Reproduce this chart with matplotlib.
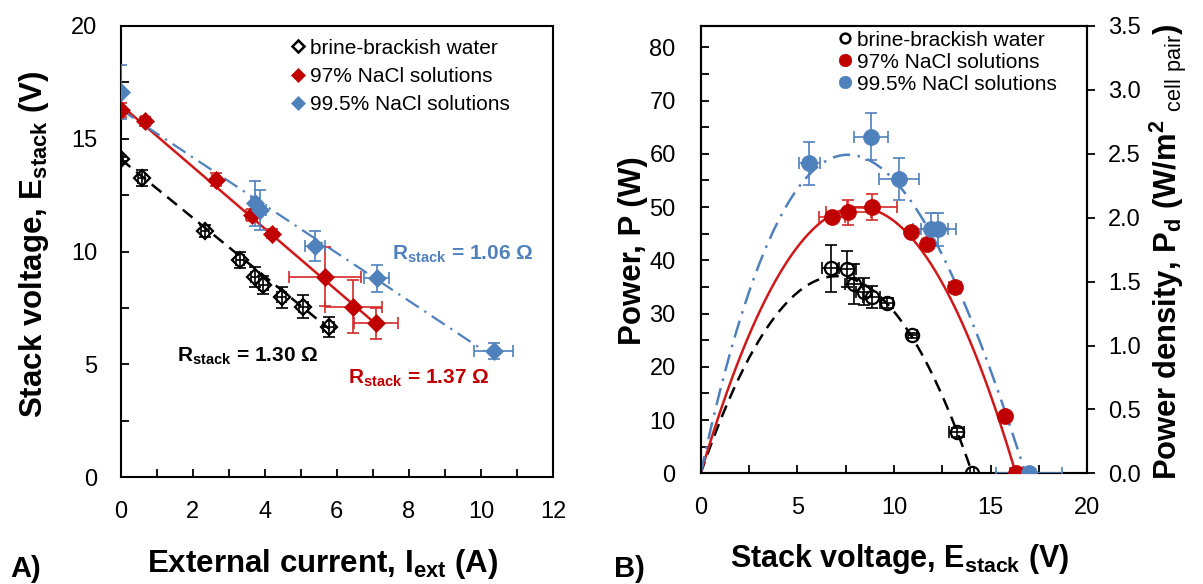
import numpy as np
import matplotlib
matplotlib.use("Agg")
import matplotlib.pyplot as plt
from matplotlib.ticker import MultipleLocator, FormatStrFormatter

plt.rcParams['font.family'] = ['Liberation Sans', 'DejaVu Sans']
plt.rcParams['mathtext.fontset'] = 'custom'
plt.rcParams['mathtext.rm'] = 'Liberation Sans:bold'
plt.rcParams['mathtext.sf'] = 'Liberation Sans'

# ---------------- data: panel A (E_stack vs I_ext) ----------------
series_labels = ["brine-brackish water", "97% NaCl solutions", "99.5% NaCl solutions"]

I_brine = [0.0, 0.58, 2.34, 3.31, 3.73, 3.96, 4.47, 5.07, 5.77]
E_brine = [14.10, 13.26, 10.92, 9.63, 8.89, 8.52, 7.97, 7.56, 6.67]
Ierr_brine = [0.05, 0.10, 0.10, 0.10, 0.12, 0.12, 0.12, 0.12, 0.15]
Eerr_brine = [0.10, 0.37, 0.25, 0.35, 0.45, 0.40, 0.48, 0.50, 0.44]

I_97 = [0.0, 0.67, 2.64, 3.64, 4.21, 5.66, 6.46, 7.09]
E_97 = [16.27, 15.78, 13.19, 11.63, 10.79, 8.89, 7.56, 6.82]
Ierr_97 = [0.05, 0.10, 0.10, 0.15, 0.10, 1.00, 0.80, 0.61]
Eerr_97 = [0.30, 0.20, 0.30, 0.25, 0.20, 1.30, 1.18, 0.67]

I_995 = [0.0, 3.73, 3.87, 5.40, 7.11, 10.35]
E_995 = [17.08, 12.15, 11.85, 10.25, 8.82, 5.60]
Ierr_995 = [0.05, 0.10, 0.15, 0.28, 0.35, 0.53]
Eerr_995 = [1.20, 1.00, 0.90, 0.68, 0.61, 0.35]

# linear fits (OCV intercept, stack resistance)
ocv_fit = [14.1, 16.5, 16.3]
R_stack = [1.30, 1.37, 1.06]
I_fit_end = [5.8, 7.1, 10.1]

# ---------------- data: panel B (P vs E_stack) ----------------
Eb_brine = [6.73, 7.55, 7.93, 8.46, 8.84, 9.62, 10.95, 13.24, 14.05]
P_brine = [38.5, 38.3, 35.5, 34.1, 33.1, 32.0, 25.9, 7.7, 0.0]
Eberr_brine = [0.44, 0.50, 0.48, 0.40, 0.45, 0.35, 0.25, 0.37, 0.10]
Perr_brine = [4.4, 3.4, 3.8, 2.5, 2.0, 1.0, 0.5, 0.8, 0.0]

Eb_97 = [6.78, 7.64, 8.88, 10.88, 11.72, 13.17, 15.74, 16.30]
P_97 = [48.2, 49.0, 50.0, 45.4, 43.1, 34.9, 10.8, 0.0]
Eberr_97 = [0.67, 1.18, 1.30, 0.20, 0.25, 0.30, 0.20, 0.30]
Perr_97 = [0.5, 2.4, 2.4, 0.5, 0.5, 0.5, 0.5, 0.0]

Eb_995 = [5.62, 8.81, 10.26, 11.90, 12.29, 17.00]
P_995 = [58.2, 63.2, 55.3, 45.8, 45.8, 0.0]
Eberr_995 = [0.56, 0.86, 1.02, 0.90, 0.90, 1.70]
Perr_995 = [4.1, 4.4, 3.9, 3.1, 3.1, 0.0]

# power curves P = E (E0 - E) (a - b E)
curve_E0 = [14.05, 16.3, 16.8]
curve_a = [0.75, 0.752, 1.0]
curve_b = [0.0, 0.0, 0.019]

# power density axis conversion (W per W/m2 cell pair)
P_per_Pd = 24.0

# ---------------- styles ----------------
BLACK = "#000000"
RED = "#C00000"
RED_ERR = "#D42A2A"
BLUE = "#4F81BD"

fig = plt.figure(figsize=(12.03, 5.84), dpi=100)
W, H = 1203.0, 584.0

def axrect(x0, x1, ytop, ybot):
    return [x0 / W, 1 - ybot / H, (x1 - x0) / W, (ybot - ytop) / H]

axA = fig.add_axes(axrect(120.7, 553.0, 26.0, 477.3))
axB = fig.add_axes(axrect(700.7, 1087.3, 26.0, 473.3))

TICK_FS = 17
LEG_FS = 15

for ax in (axA, axB):
    for sp in ax.spines.values():
        sp.set_linewidth(1.5)
    ax.tick_params(which='both', direction='in', length=6, width=1.3,
                   labelsize=TICK_FS, top=False, right=False)
    ax.tick_params(axis='y', pad=17)
    ax.tick_params(axis='x', pad=17)

# ---------- Panel A ----------
colorsA = [BLACK, RED, BLUE]
err_cols = [BLACK, RED_ERR, BLUE]
fit_ls = [(0, (5, 3)), '-', (0, (7, 3, 1, 3))]
fit_cols = [BLACK, "#D01818", BLUE]
fit_lw = [1.8, 1.8, 1.6]

for k in range(3):
    Ifit = np.linspace(0, I_fit_end[k], 50)
    axA.plot(Ifit, ocv_fit[k] - R_stack[k] * Ifit, ls=fit_ls[k], color=fit_cols[k],
             lw=fit_lw[k], zorder=2)

dataA = [(I_brine, E_brine, Ierr_brine, Eerr_brine),
         (I_97, E_97, Ierr_97, Eerr_97),
         (I_995, E_995, Ierr_995, Eerr_995)]
handlesA = []
for k, (x, y, xe, ye) in enumerate(dataA):
    axA.errorbar(x, y, xerr=xe, yerr=ye, fmt='none', ecolor=err_cols[k],
                 elinewidth=1.2, capsize=4, capthick=1.2, zorder=3)
    axA.plot(x, y, ls='none', marker='D', ms=9.5 if k else 8,
             mfc=colorsA[k] if k else 'none', mec=colorsA[k],
             mew=1.6 if k == 0 else 0.5, zorder=4)
    h, = axA.plot([], [], ls='none', marker='D', ms=7 if k else 6,
                  mfc='white' if k == 0 else colorsA[k], mec=colorsA[k],
                  mew=1.8 if k == 0 else 0.5)
    handlesA.append(h)

axA.set_xlim(0, 12)
axA.set_ylim(0, 20)
axA.xaxis.set_major_locator(MultipleLocator(2))
axA.xaxis.set_minor_locator(MultipleLocator(1))
axA.yaxis.set_major_locator(MultipleLocator(5))
axA.yaxis.set_minor_locator(MultipleLocator(2.5))

axA.legend(handlesA, series_labels, loc='upper left',
           bbox_to_anchor=((292 - 120.7) / 432.3, (477.3 - 38.5) / 451.3),
           frameon=False, fontsize=LEG_FS, handlelength=0.6,
           handletextpad=0.25, labelspacing=0.45, borderpad=0.0,
           borderaxespad=0.0)

axA.text(7.52, 9.67, r'R$_{\mathrm{stack}}$ = 1.06 Ω', color=BLUE,
         fontsize=15, fontweight='bold', va='baseline', ha='left')
axA.text(1.57, 5.15, r'R$_{\mathrm{stack}}$ = 1.30 Ω', color=BLACK,
         fontsize=15, fontweight='bold', va='baseline', ha='left')
axA.text(6.32, 4.16, r'R$_{\mathrm{stack}}$ = 1.37 Ω', color=RED,
         fontsize=15, fontweight='bold', va='baseline', ha='left')

# ---------- Panel B ----------
curve_ls = [(0, (5, 3)), '-', (0, (7, 3, 1, 3))]
curve_cols = [BLACK, "#D01818", BLUE]
for k in range(3):
    Ec = np.linspace(0, curve_E0[k], 200)
    Pc = Ec * (curve_E0[k] - Ec) * (curve_a[k] - curve_b[k] * Ec)
    axB.plot(Ec, Pc, ls=curve_ls[k], color=curve_cols[k], lw=1.8, zorder=2)

dataB = [(Eb_brine, P_brine, Eberr_brine, Perr_brine),
         (Eb_97, P_97, Eberr_97, Perr_97),
         (Eb_995, P_995, Eberr_995, Perr_995)]
handlesB = []
for k, (x, y, xe, ye) in enumerate(dataB):
    axB.errorbar(x, y, xerr=xe, yerr=ye, fmt='none', ecolor=err_cols[k],
                 elinewidth=1.2, capsize=4, capthick=1.2, zorder=3)
    if k == 0:
        axB.plot(x, y, ls='none', marker='o', ms=9.5, mfc='none', mec=BLACK,
                 mew=1.6, zorder=4)
        h, = axB.plot([], [], ls='none', marker='o', ms=7, mfc='white',
                      mec=BLACK, mew=1.8)
    else:
        axB.plot(x, y, ls='none', marker='o', ms=11.5, mfc=colorsA[k],
                 mec=colorsA[k], mew=0.5, zorder=4)
        h, = axB.plot([], [], ls='none', marker='o', ms=9, mfc=colorsA[k],
                      mec=colorsA[k], mew=0.5)
    handlesB.append(h)

axB.set_xlim(0, 20)
axB.set_ylim(0, 3.5 * P_per_Pd)
axB.xaxis.set_major_locator(MultipleLocator(5))
axB.xaxis.set_minor_locator(MultipleLocator(2.5))
axB.yaxis.set_major_locator(MultipleLocator(10))
axB.yaxis.set_minor_locator(MultipleLocator(5))
axB.tick_params(axis='y', pad=18)

axR = axB.twinx()
axR.set_ylim(0, 3.5)
axR.yaxis.set_major_locator(MultipleLocator(0.5))
axR.yaxis.set_major_formatter(FormatStrFormatter('%.1f'))
axR.tick_params(axis='y', direction='out', length=6, width=1.3,
                labelsize=TICK_FS, pad=9)
for sp in axR.spines.values():
    sp.set_linewidth(1.5)

axB.legend(handlesB, series_labels, loc='upper left',
           bbox_to_anchor=((839 - 700.7) / 386.6, (473.3 - 30.5) / 447.3),
           frameon=False, fontsize=LEG_FS, handlelength=0.6,
           handletextpad=0.25, labelspacing=0.15, borderpad=0.0,
           borderaxespad=0.0)
axB.set_zorder(axR.get_zorder() + 1)
axB.patch.set_visible(False)

# ---------- axis labels ----------
def flabel(x, y, s, fs, rot=0, ha='center'):
    fig.text(x / W, 1 - y / H, s, fontsize=fs, fontweight='bold', rotation=rot,
             rotation_mode='anchor', ha=ha, va='baseline')

flabel(323, 571.7, r'External current, I$_{\mathrm{ext}}$ (A)', 22.5)
flabel(42, 244, r'Stack voltage, E$_{\mathrm{stack}}$ (V)', 22.5, rot=90)
flabel(900, 567.3, r'Stack voltage, E$_{\mathrm{stack}}$ (V)', 22)
flabel(641, 251, r'Power, P (W)', 22.5, rot=90)
flabel(1177, 252,
       r'Power density, P$_{\mathrm{d}}$ (W/m$^{\mathrm{2}}$ $_{\mathsf{cell\ pair}}$)',
       22.3, rot=90)
flabel(10, 577, 'A)', 21, ha='left')
flabel(614, 577, 'B)', 21, ha='left')

fig.savefig("out.png", dpi=100)
